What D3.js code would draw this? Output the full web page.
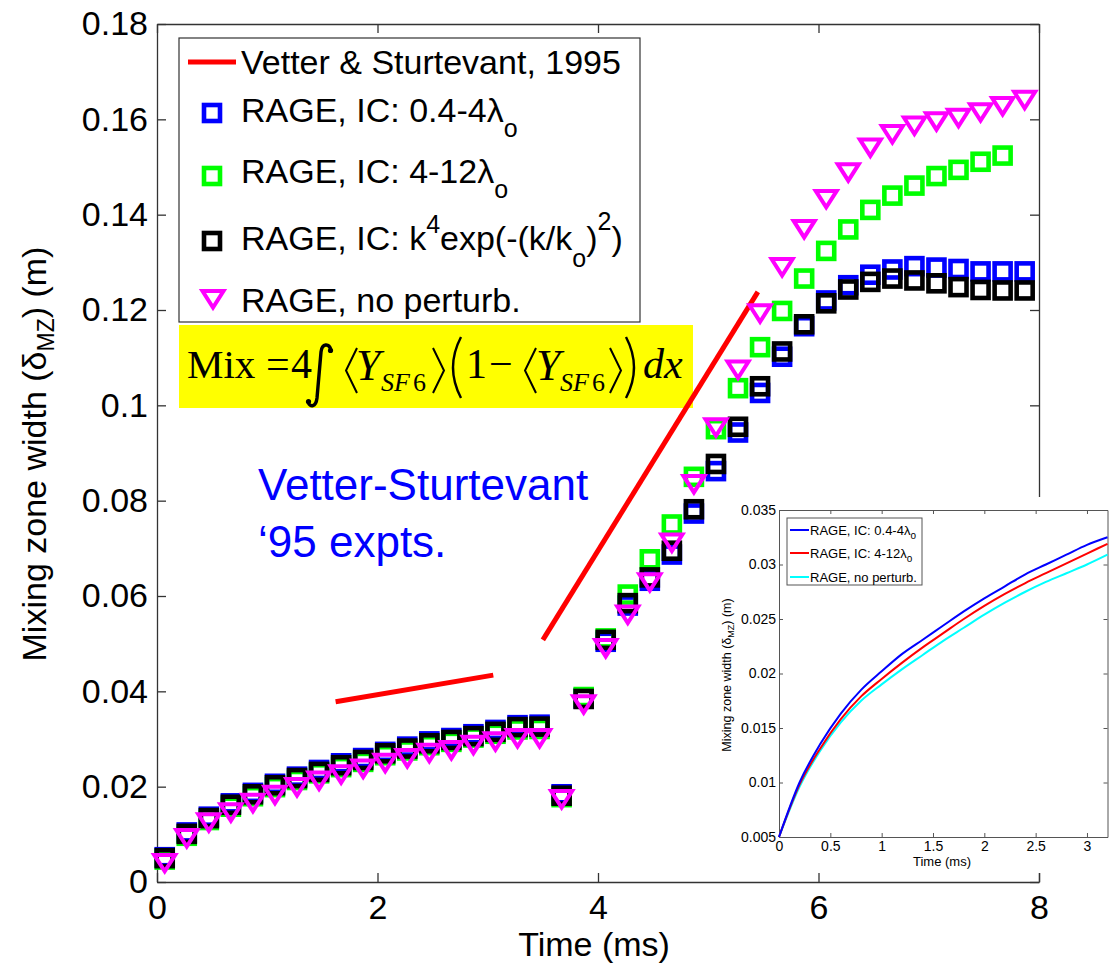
<!DOCTYPE html>
<html>
<head>
<meta charset="utf-8">
<script src="https://cdn.jsdelivr.net/npm/d3@7"></script>
<style>
  body { margin: 0; background: #fff; }
  svg { display: block; }
</style>
</head>
<body>
<svg id="chart" width="1113" height="966"></svg>
<script>
// ---- Main panel data: mixing zone width (m) vs time (ms) ----
const timeMs = [0.07, 0.27, 0.47, 0.67, 0.87, 1.07, 1.27, 1.47, 1.67, 1.87,
                2.07, 2.27, 2.47, 2.67, 2.87, 3.07, 3.27, 3.47, 3.67, 3.87,
                4.07, 4.27, 4.47, 4.67, 4.87, 5.07, 5.27, 5.47, 5.67, 5.87,
                6.07, 6.27, 6.47, 6.67, 6.87, 7.07, 7.27, 7.47, 7.67, 7.87];

// RAGE, IC: 0.4-4 lambda_o
const widthIcShort = [0.0052, 0.0104, 0.0137, 0.0165, 0.0187, 0.0206, 0.0221, 0.0235, 0.0249, 0.0260,
                      0.0273, 0.0284, 0.0295, 0.0302, 0.0310, 0.0319, 0.0329, 0.0330, 0.0184, 0.0385,
                      0.0504, 0.0580, 0.0632, 0.0687, 0.0773, 0.0862, 0.0943, 0.1026, 0.1102, 0.1166,
                      0.1220, 0.1252, 0.1274, 0.1285, 0.1292, 0.1289, 0.1286, 0.1281, 0.1281, 0.1281];

// RAGE, IC: 4-12 lambda_o (last sample at 7.67 ms)
const widthIcLong = [0.0047, 0.0097, 0.0130, 0.0158, 0.0180, 0.0199, 0.0214, 0.0228, 0.0241, 0.0252,
                     0.0266, 0.0276, 0.0287, 0.0294, 0.0303, 0.0311, 0.0320, 0.0321, 0.0178, 0.0388,
                     0.0511, 0.0603, 0.0677, 0.0750, 0.0850, 0.0950, 0.1036, 0.1122, 0.1198, 0.1266,
                     0.1324, 0.1369, 0.1410, 0.1440, 0.1461, 0.1481, 0.1494, 0.1511, 0.1524];

// RAGE, IC: k^4 exp(-(k/k_o)^2)
const widthIcSpectrum = [0.0050, 0.0101, 0.0134, 0.0162, 0.0184, 0.0203, 0.0218, 0.0231, 0.0245, 0.0256,
                         0.0270, 0.0280, 0.0291, 0.0298, 0.0306, 0.0315, 0.0325, 0.0326, 0.0181, 0.0384,
                         0.0508, 0.0585, 0.0639, 0.0695, 0.0782, 0.0877, 0.0955, 0.1040, 0.1113, 0.1170,
                         0.1214, 0.1243, 0.1259, 0.1266, 0.1262, 0.1256, 0.1248, 0.1242, 0.1241, 0.1241];

// RAGE, no perturbation
const widthNoPerturb = [0.0038, 0.0090, 0.0123, 0.0144, 0.0164, 0.0181, 0.0197, 0.0211, 0.0224, 0.0236,
                        0.0248, 0.0258, 0.0269, 0.0275, 0.0286, 0.0293, 0.0300, 0.0300, 0.0172, 0.0371,
                        0.0489, 0.0559, 0.0627, 0.0710, 0.0833, 0.0952, 0.1073, 0.1191, 0.1288, 0.1368,
                        0.1431, 0.1487, 0.1539, 0.1567, 0.1585, 0.1594, 0.1601, 0.1613, 0.1626, 0.1639];

// Vetter & Sturtevant (1995) experimental fits, before and after reshock
const vsEarlyTime = [1.62, 3.05];
const vsEarlyWidth = [0.0378, 0.0434];
const vsLateTime = [3.50, 5.45];
const vsLateWidth = [0.0508, 0.1238];

const xTicks = [0, 2, 4, 6, 8];
const yTicks = [0, 0.02, 0.04, 0.06, 0.08, 0.1, 0.12, 0.14, 0.16, 0.18];

// ---- Inset data: early-time mixing zone width ----
const insetTime = [0, 0.2, 0.4, 0.6, 0.8, 1.0, 1.2, 1.4, 1.6, 1.8, 2.0, 2.2, 2.4, 2.6, 2.8, 3.0, 3.2];
const insetIcShort = [0.0050, 0.0100, 0.0135, 0.0163, 0.0185, 0.0202, 0.0218, 0.0231, 0.0244,
                      0.0257, 0.0269, 0.0280, 0.0291, 0.0300, 0.0309, 0.0318, 0.0325];
const insetIcLong = [0.0050, 0.0098, 0.0131, 0.0158, 0.0179, 0.0195, 0.0210, 0.0224, 0.0237,
                     0.0250, 0.0262, 0.0273, 0.0283, 0.0292, 0.0301, 0.0310, 0.0319];
const insetNoPerturb = [0.0050, 0.0096, 0.0129, 0.0155, 0.0175, 0.0190, 0.0204, 0.0217, 0.0230,
                        0.0242, 0.0254, 0.0265, 0.0275, 0.0284, 0.0292, 0.0300, 0.0309];
const insetXTicks = [0, 0.5, 1, 1.5, 2, 2.5, 3];
const insetYTicks = [0.005, 0.01, 0.015, 0.02, 0.025, 0.03, 0.035];

// ---- Drawing ----
const SANS = "'Liberation Sans', Arial, Helvetica, sans-serif";
const SERIF = "'Liberation Serif', 'Times New Roman', serif";
const AXIS = "#333";

const svg = d3.select("#chart").attr("font-family", SANS);
svg.append("rect").attr("width", 1113).attr("height", 966).attr("fill", "#fff");

const x = d3.scaleLinear().domain([0, 8]).range([157, 1039]);
const y = d3.scaleLinear().domain([0, 0.18]).range([882, 24]);
const fmt = v => String(+v.toFixed(3));

// Axes (ticks point inward, box on all sides)
function styleAxis(g, size) {
  g.select(".domain").attr("stroke", AXIS).attr("stroke-width", 1.3);
  g.selectAll(".tick line").attr("stroke", AXIS).attr("stroke-width", 1.3);
  g.selectAll(".tick text").attr("fill", "#000").attr("font-size", size).attr("font-family", SANS);
}
const gx = svg.append("g").attr("transform", "translate(0,882)")
  .call(d3.axisBottom(x).tickValues(xTicks).tickFormat(fmt).tickSizeInner(-9).tickSizeOuter(0).tickPadding(13));
styleAxis(gx, 34);
const gy = svg.append("g").attr("transform", "translate(157,0)")
  .call(d3.axisLeft(y).tickValues(yTicks).tickFormat(fmt).tickSizeInner(-9).tickSizeOuter(0).tickPadding(9));
styleAxis(gy, 34);
const gxt = svg.append("g").attr("transform", "translate(0,24)")
  .call(d3.axisTop(x).tickValues(xTicks).tickFormat("").tickSizeInner(-9).tickSizeOuter(0));
styleAxis(gxt, 0);
const gyr = svg.append("g").attr("transform", "translate(1039,0)")
  .call(d3.axisRight(y).tickValues(yTicks).tickFormat("").tickSizeInner(-9).tickSizeOuter(0));
styleAxis(gyr, 0);

// Axis titles
svg.append("text").attr("x", 594).attr("y", 956).attr("text-anchor", "middle")
  .attr("font-size", 34).text("Time (ms)");
const yl = svg.append("text").attr("transform", "translate(46,454) rotate(-90)")
  .attr("text-anchor", "middle").attr("font-size", 34);
yl.append("tspan").text("Mixing zone width (δ");
yl.append("tspan").attr("font-size", 23).attr("dy", 8).text("MZ");
yl.append("tspan").attr("dy", -8).text(") (m)");

// Yellow formula banner (under the data)
const banner = svg.append("g");
banner.append("rect").attr("x", 179).attr("y", 325).attr("width", 514).attr("height", 83).attr("fill", "#ffff00");
const ft = (s, px, py, size, italic) => banner.append("text")
  .attr("x", px).attr("y", py).attr("font-family", SERIF).attr("font-size", size)
  .attr("font-style", italic ? "italic" : "normal").text(s);
const fp = d => banner.append("path").attr("d", d).attr("fill", "none").attr("stroke", "#000")
  .attr("stroke-width", 2).attr("stroke-linejoin", "miter");
ft("Mix", 187, 378, 41);
ft("=", 266, 378, 42);
ft("4", 291, 378, 42);
// integral sign
fp("M331,350 C329,343 322,343 321,352 L317,398 C316,407 310,408 308,402")
  .attr("stroke-width", 3.4).attr("stroke-linecap", "round");
banner.append("circle").attr("cx", 330.5).attr("cy", 350.5).attr("r", 2.6);
banner.append("circle").attr("cx", 308.5).attr("cy", 401.5).attr("r", 2.6);
fp("M357,348 L346,370.5 L357,393");
ft("Y", 356, 380, 44, true);
ft("SF", 381, 391, 26, true);
ft("6", 413, 391, 26);
fp("M433,348 L444,370.5 L433,393");
fp("M461,337 Q445,367.5 461,398").attr("stroke-width", 2.4);
ft("1", 466, 378, 42);
ft("−", 489, 378, 42);
fp("M536,348 L525,370.5 L536,393");
ft("Y", 536, 380, 44, true);
ft("SF", 560, 391, 26, true);
ft("6", 592, 391, 26);
fp("M610,348 L621,370.5 L610,393");
fp("M626,337 Q642,367.5 626,398").attr("stroke-width", 2.4);
ft("dx", 643, 378, 42, true);

// Data layer
const plot = svg.append("g");
const line = d3.line().x(d => x(d[0])).y(d => y(d[1]));
[[vsEarlyTime, vsEarlyWidth], [vsLateTime, vsLateWidth]].forEach(([t, w]) => {
  plot.append("path").attr("d", line(d3.zip(t, w)))
    .attr("fill", "none").attr("stroke", "#ff0000").attr("stroke-width", 5);
});

function squares(values, color) {
  plot.append("g").selectAll("rect").data(d3.zip(timeMs, values)).join("rect")
    .attr("x", d => x(d[0]) - 8).attr("y", d => y(d[1]) - 8)
    .attr("width", 16).attr("height", 16)
    .attr("fill", "none").attr("stroke", color).attr("stroke-width", 4.6);
}
const triPath = "M-10.5,-9 L10.5,-9 L0,7.5 Z";
function triangles(values, color) {
  plot.append("g").selectAll("path").data(d3.zip(timeMs, values)).join("path")
    .attr("d", triPath)
    .attr("transform", d => `translate(${x(d[0])},${y(d[1])})`)
    .attr("fill", "none").attr("stroke", color).attr("stroke-width", 4);
}
squares(widthIcShort, "#0000ff");
squares(widthIcLong, "#00ff00");
squares(widthIcSpectrum, "#000000");
triangles(widthNoPerturb, "#ff00ff");

// Legend
const lg = svg.append("g");
lg.append("rect").attr("x", 179).attr("y", 38).attr("width", 461).attr("height", 284)
  .attr("fill", "#fff").attr("stroke", AXIS).attr("stroke-width", 1.2);
lg.append("line").attr("x1", 188).attr("x2", 236).attr("y1", 62).attr("y2", 62)
  .attr("stroke", "#ff0000").attr("stroke-width", 5);
const lsq = (cy, color) => lg.append("rect").attr("x", 204).attr("y", cy - 8).attr("width", 16).attr("height", 16)
  .attr("fill", "none").attr("stroke", color).attr("stroke-width", 4.6);
lsq(113, "#0000ff");
lsq(176, "#00ff00");
lsq(241, "#000000");
lg.append("path").attr("d", triPath).attr("transform", "translate(213,300)")
  .attr("fill", "none").attr("stroke", "#ff00ff").attr("stroke-width", 4);
const lt = (py) => lg.append("text").attr("x", 241).attr("y", py).attr("font-size", 34);
lt(74).text("Vetter & Sturtevant, 1995");
let t2 = lt(122); t2.append("tspan").text("RAGE, IC: 0.4-4λ");
t2.append("tspan").attr("font-size", 25).attr("dy", 15).text("o");
let t3 = lt(183); t3.append("tspan").text("RAGE, IC: 4-12λ");
t3.append("tspan").attr("font-size", 25).attr("dy", 15).text("o");
let t4 = lt(250); t4.append("tspan").text("RAGE, IC: k");
t4.append("tspan").attr("font-size", 25).attr("dy", -17).text("4");
t4.append("tspan").attr("dy", 17).text("exp(-(k/k");
t4.append("tspan").attr("font-size", 25).attr("dy", 17).text("o");
t4.append("tspan").attr("dy", -17).text(")");
t4.append("tspan").attr("font-size", 25).attr("dy", -20).text("2");
t4.append("tspan").attr("dy", 20).text(")");
lt(312).text("RAGE, no perturb.");

// Experiment annotation
const note = svg.append("g").attr("fill", "#0000ff").attr("font-size", 44);
note.append("text").attr("x", 258).attr("y", 500).text("Vetter-Sturtevant");
note.append("text").attr("x", 258).attr("y", 557).text("‘95 expts.");

// ---- Inset ----
const inset = svg.append("g");
inset.append("rect").attr("x", 712).attr("y", 497).attr("width", 401).attr("height", 376).attr("fill", "#fff");
const ix = d3.scaleLinear().domain([0, 3.2]).range([779, 1107.5]);
const iy = d3.scaleLinear().domain([0.005, 0.035]).range([837, 510]);
function styleInset(g) {
  g.select(".domain").attr("stroke", "#555").attr("stroke-width", 1);
  g.selectAll(".tick line").attr("stroke", "#555").attr("stroke-width", 1);
  g.selectAll(".tick text").attr("fill", "#000").attr("font-size", 14).attr("font-family", SANS);
}
styleInset(inset.append("g").attr("transform", "translate(0,837)")
  .call(d3.axisBottom(ix).tickValues(insetXTicks).tickFormat(fmt).tickSizeInner(-4).tickSizeOuter(0).tickPadding(4)));
styleInset(inset.append("g").attr("transform", "translate(779,0)")
  .call(d3.axisLeft(iy).tickValues(insetYTicks).tickFormat(fmt).tickSizeInner(-4).tickSizeOuter(0).tickPadding(3)));
styleInset(inset.append("g").attr("transform", "translate(0,510)")
  .call(d3.axisTop(ix).tickValues(insetXTicks).tickFormat("").tickSizeInner(-4).tickSizeOuter(0)));
styleInset(inset.append("g").attr("transform", "translate(1107.5,0)")
  .call(d3.axisRight(iy).tickValues(insetYTicks).tickFormat("").tickSizeInner(-4).tickSizeOuter(0)));

const iline = d3.line().x(d => ix(d[0])).y(d => iy(d[1])).curve(d3.curveMonotoneX);
[[insetNoPerturb, "#00ffff"], [insetIcLong, "#ff0000"], [insetIcShort, "#0000ff"]].forEach(([v, c]) => {
  inset.append("path").attr("d", iline(d3.zip(insetTime, v)))
    .attr("fill", "none").attr("stroke", c).attr("stroke-width", 2);
});

inset.append("text").attr("x", 942).attr("y", 866).attr("text-anchor", "middle")
  .attr("font-size", 13).text("Time (ms)");
const iyl = inset.append("text").attr("transform", "translate(731,675) rotate(-90)")
  .attr("text-anchor", "middle").attr("font-size", 12.5);
iyl.append("tspan").text("Mixing zone width (δ");
iyl.append("tspan").attr("font-size", 9).attr("dy", 3).text("MZ");
iyl.append("tspan").attr("dy", -3).text(") (m)");

// Inset legend
const ilg = inset.append("g");
ilg.append("rect").attr("x", 787).attr("y", 518).attr("width", 135).attr("height", 67)
  .attr("fill", "#fff").attr("stroke", "#555").attr("stroke-width", 1);
[["RAGE, IC: 0.4-4λ", "o", "#0000ff", 530], ["RAGE, IC: 4-12λ", "o", "#ff0000", 553],
 ["RAGE, no perturb.", "", "#00ffff", 577]].forEach(([label, sub, c, ly]) => {
  ilg.append("line").attr("x1", 790).attr("x2", 809).attr("y1", ly).attr("y2", ly)
    .attr("stroke", c).attr("stroke-width", 2);
  const tx = ilg.append("text").attr("x", 810).attr("y", ly + 5).attr("font-size", 13);
  tx.append("tspan").text(label);
  if (sub) tx.append("tspan").attr("font-size", 10).attr("dy", 4).text(sub);
});
</script>
</body>
</html>
